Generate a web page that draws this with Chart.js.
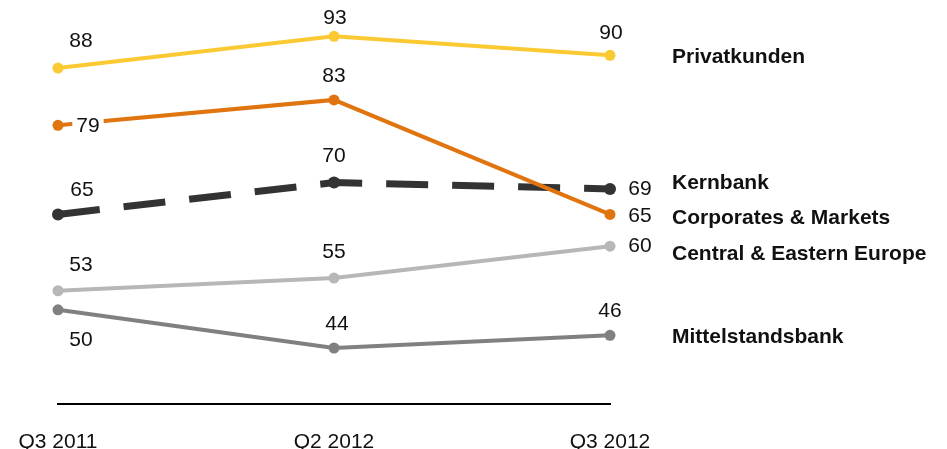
<!DOCTYPE html>
<html>
<head>
<meta charset="utf-8">
<script src="https://cdn.jsdelivr.net/npm/chart.js@4/dist/chart.umd.min.js"></script>
<style>
  html, body { margin: 0; padding: 0; background: #fff; }
  #wrap { width: 947px; height: 449px; position: relative; }
</style>
</head>
<body>
<div id="wrap"><canvas id="c" width="947" height="449"></canvas></div>
<script>
// Periods on the x axis
const periods = ['Q3 2011', 'Q2 2012', 'Q3 2012'];

// Segment names and their values per period
const seriesNames = ['Privatkunden', 'Corporates & Markets', 'Kernbank', 'Central & Eastern Europe', 'Mittelstandsbank'];
const privatkunden = [88, 93, 90];
const corporatesMarkets = [79, 83, 65];
const kernbank = [65, 70, 69];
const centralEasternEurope = [53, 55, 60];
const mittelstandsbank = [50, 44, 46];

// Styling per series
const seriesColors = ['#FBC932', '#E0740F', '#333333', '#B7B7B7', '#808080'];
const seriesWidths = [4, 4, 7, 4, 4];
const seriesDashes = [[], [], [42, 24], [], []];
const pointRadii = [5.5, 5.5, 6, 5.5, 5.5];
// value label offsets (dx, dy) from each point, per series
const labelOffsets = [
  [[23, -27], [1, -18], [1, -22]],
  [[30, 1], [0, -24], [30, 2]],
  [[24, -24], [0, -26], [30, 0]],
  [[23, -26], [0, -26], [30, 0]],
  [[23, 30], [3, -24], [0, -24]]
];
// series name vertical offset from the last point
const nameOffsets = [2, 4, -6, 7.5, 2];
// labels drawn on a white box
const labelBoxes = [[false, false, false], [true, false, false], [false, false, false], [false, false, false], [false, false, false]];

const seriesData = [privatkunden, corporatesMarkets, kernbank, centralEasternEurope, mittelstandsbank];
const FONT = '"Liberation Sans", Arial, sans-serif';

// Value labels next to each point and series names at the right end
const labelPlugin = {
  id: 'valueLabels',
  afterDatasetsDraw(chart) {
    const ctx = chart.ctx;
    ctx.save();
    ctx.textBaseline = 'middle';
    chart.data.datasets.forEach((ds, di) => {
      const meta = chart.getDatasetMeta(di);
      meta.data.forEach((pt, i) => {
        const [dx, dy] = labelOffsets[di][i];
        const x = pt.x + dx, y = pt.y + dy;
        const txt = String(ds.data[i]);
        ctx.font = '21px ' + FONT;
        ctx.textAlign = 'center';
        if (labelBoxes[di][i]) {
          const w = ctx.measureText(txt).width + 8;
          ctx.fillStyle = '#ffffff';
          ctx.fillRect(x - w / 2, y - 12, w, 24);
        }
        ctx.fillStyle = '#111111';
        ctx.fillText(txt, x, y);
      });
      const last = meta.data[meta.data.length - 1];
      ctx.font = 'bold 21px ' + FONT;
      ctx.textAlign = 'left';
      ctx.fillStyle = '#111111';
      ctx.fillText(ds.label, chart.chartArea.right + 62, last.y + nameOffsets[di]);
    });
    ctx.restore();
  }
};

new Chart(document.getElementById('c'), {
  type: 'line',
  data: {
    labels: periods,
    datasets: seriesNames.map((name, i) => ({
      label: name,
      data: seriesData[i],
      borderColor: seriesColors[i],
      backgroundColor: seriesColors[i],
      pointBackgroundColor: seriesColors[i],
      pointBorderColor: seriesColors[i],
      pointBorderWidth: 0,
      pointRadius: pointRadii[i],
      borderWidth: seriesWidths[i],
      borderDash: seriesDashes[i],
      borderCapStyle: 'butt',
      tension: 0,
      fill: false,
      clip: false
    }))
  },
  options: {
    responsive: false,
    animation: false,
    layout: { autoPadding: false, padding: { left: 58, right: 337, top: 0, bottom: 0 } },
    plugins: { legend: { display: false }, tooltip: { enabled: false } },
    scales: {
      x: {
        type: 'category',
        offset: false,
        grid: { display: false, drawTicks: false },
        border: { display: true, color: '#000000', width: 2 },
        ticks: { color: '#111111', font: { family: FONT, size: 21 }, padding: 26, maxRotation: 0, autoSkip: false },
        afterFit(scale) { scale.height = 45; scale.paddingLeft = 0; scale.paddingRight = 0; }
      },
      y: { display: false, min: 35.2, max: 98.7 }
    }
  },
  plugins: [labelPlugin]
});
</script>
</body>
</html>
